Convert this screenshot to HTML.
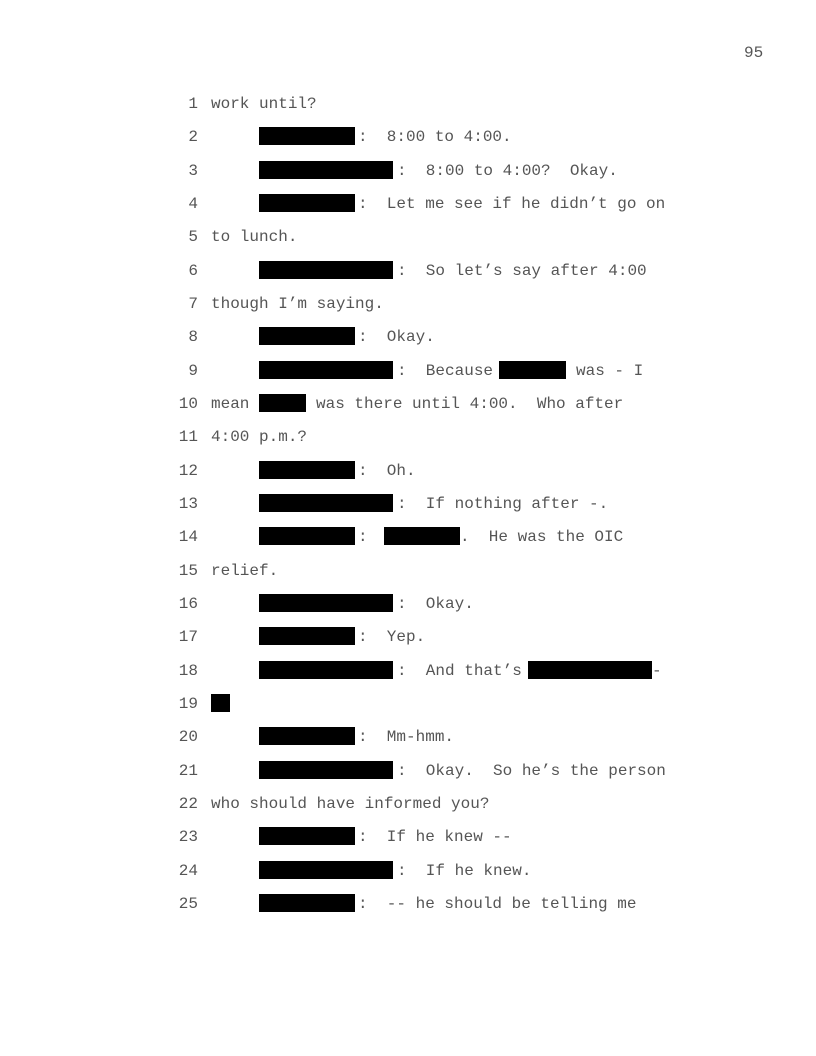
<!DOCTYPE html>
<html><head><style>
body{margin:0;width:816px;height:1056px;background:#fff;position:relative;font-family:"Liberation Mono",monospace;font-size:16px;color:#555;}
.t{position:absolute;white-space:pre;line-height:20px;}
.n{position:absolute;width:30px;left:168px;text-align:right;line-height:20px;color:#555;}
.b{position:absolute;background:#000;height:18px;}
</style></head><body>
<div class="t" style="left:744px;top:43px">95</div>
<script>
var L=[
[1,"work until?",[]],
[2,"",[[259,355]],[[358,":  8:00 to 4:00."]]],
[3,"",[[259,393]],[[397,":  8:00 to 4:00?  Okay."]]],
[4,"",[[259,355]],[[358,":  Let me see if he didn’t go on"]]],
[5,"to lunch.",[]],
[6,"",[[259,393]],[[397,":  So let’s say after 4:00"]]],
[7,"though I’m saying.",[]],
[8,"",[[259,355]],[[358,":  Okay."]]],
[9,"",[[259,393],[499,566]],[[397,":  Because"],[576,"was - I"]]],
[10,"mean",[[259,306]],[[316,"was there until 4:00.  Who after"]]],
[11,"4:00 p.m.?",[]],
[12,"",[[259,355]],[[358,":  Oh."]]],
[13,"",[[259,393]],[[397,":  If nothing after -."]]],
[14,"",[[259,355],[384,460]],[[358,":"],[460,".  He was the OIC"]]],
[15,"relief.",[]],
[16,"",[[259,393]],[[397,":  Okay."]]],
[17,"",[[259,355]],[[358,":  Yep."]]],
[18,"",[[259,393],[528,652]],[[397,":  And that’s"],[652,"-"]]],
[19,"",[[211,230]],[]],
[20,"",[[259,355]],[[358,":  Mm-hmm."]]],
[21,"",[[259,393]],[[397,":  Okay.  So he’s the person"]]],
[22,"who should have informed you?",[]],
[23,"",[[259,355]],[[358,":  If he knew --"]]],
[24,"",[[259,393]],[[397,":  If he knew."]]],
[25,"",[[259,355]],[[358,":  -- he should be telling me"]]]
];
var h="";
L.forEach(function(l){
 var c=103+(l[0]-1)*33.333;var top=c-9;
 h+='<div class="n" style="top:'+top+'px">'+l[0]+'</div>';
 if(l[1])h+='<div class="t" style="left:211px;top:'+top+'px">'+l[1]+'</div>';
 l[2].forEach(function(b){h+='<div class="b" style="left:'+b[0]+'px;width:'+(b[1]-b[0])+'px;top:'+(c-9)+'px"></div>';});
 (l[3]||[]).forEach(function(s){h+='<div class="t" style="left:'+s[0]+'px;top:'+top+'px">'+s[1]+'</div>';});
});
document.write(h);
</script>
</body></html>
